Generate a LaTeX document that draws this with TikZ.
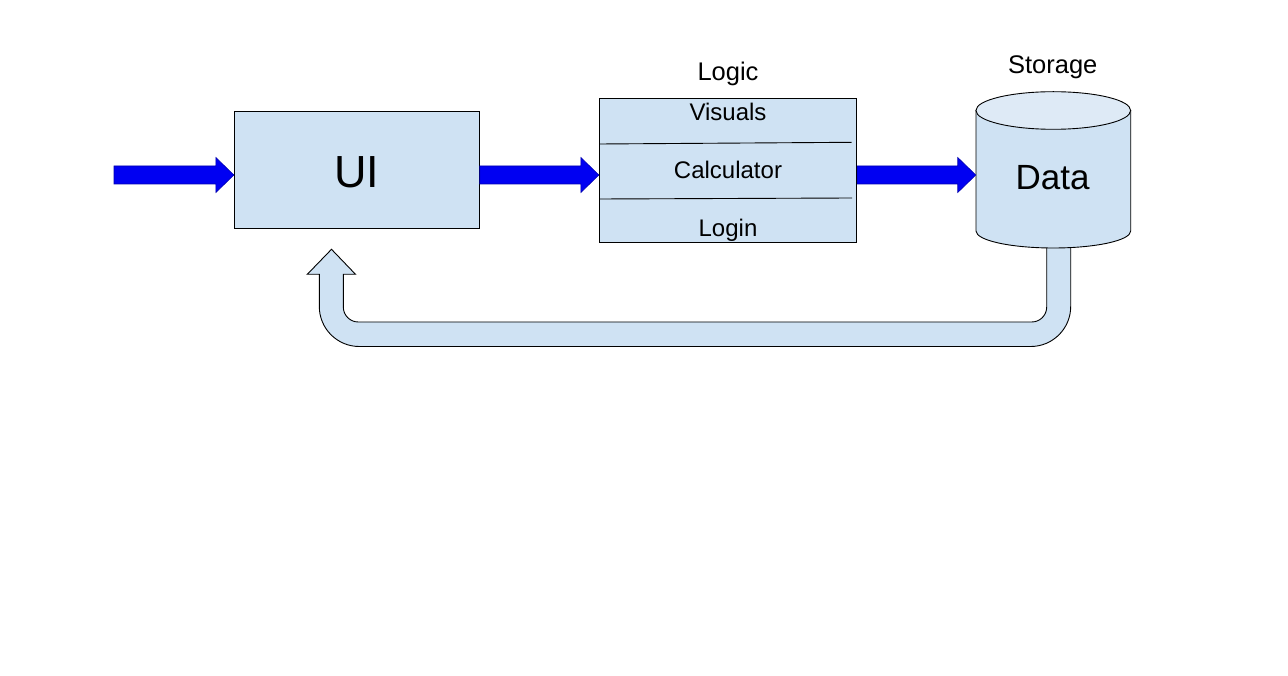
\documentclass[tikz,border=0pt]{standalone}
\usepackage{fontspec}
\setmainfont{Liberation Sans}
\usetikzlibrary{calc}

\definecolor{boxfill}{HTML}{CFE2F3}
\definecolor{capfill}{HTML}{DEEAF6}
\definecolor{flowblue}{HTML}{0000F2}
\definecolor{flowedge}{HTML}{0000B0}

\tikzset{
  panel/.style={draw=black, line width=0.9pt, fill=boxfill, inner sep=0pt},
  lbl/.style={inner sep=0pt, anchor=base, font=\fontsize{24}{28}\selectfont},
  biglbl/.style={inner sep=0pt, anchor=base, font=\fontsize{#1}{#1}\selectfont},
  flow/.style={fill=flowblue, draw=flowedge, line width=0.6pt},
  returnflow/.style={fill=boxfill, draw=black, line width=0.9pt},
  divider/.style={draw=black, line width=0.9pt},
}

% block arrow from a tail point to a tip point (horizontal)
\newcommand\blockarrow[2]{%
  \draw[flow] ($(#1)+(0,-9)$) -- ($(#2)+(-18,-9)$) -- ($(#2)+(-18,-17.5)$)
    -- (#2) -- ($(#2)+(-18,17.5)$) -- ($(#2)+(-18,9)$) -- ($(#1)+(0,9)$) -- cycle;}

\begin{document}
\begin{tikzpicture}[x=1pt, y=-1pt]
  \fill[white] (0,0) rectangle (1288,676);
  \useasboundingbox (0,0) rectangle (1288,676);

  % UI block
  \node[panel, minimum width=245pt, minimum height=116.7pt] (ui) at (356.8,169.7) {};
  \node[biglbl=45] (uitext) at (357,187.7) {UI};

  % Logic block with three sections
  \node[panel, minimum width=257.4pt, minimum height=144pt] (logic) at (728,170.3) {};
  \draw[divider] (599.3,144) -- (851.7,142.3);
  \draw[divider] (599.3,199) -- (852,198);
  \node[biglbl=25.5] (logictitle) at (728,80.5) {Logic};
  \node[lbl] (visuals) at (728,121) {Visuals};
  \node[lbl] (calc) at (728,178.3) {Calculator};
  \node[lbl] (login) at (728,236.7) {Login};

  % Storage cylinder (outline drawn below)
  \node[inner sep=0pt, minimum width=154.7pt, minimum height=156.6pt] (data) at (1053.3,170) {};
  \node[biglbl=25.5] (storagetitle) at (1052.7,73.3) {Storage};

  % return path from storage back to the UI
  \draw[returnflow] (1070.7,240) -- (1070.7,306.5)
    .. controls (1070.7,328.6) and (1052.8,346.5) .. (1030.7,346.5)
    -- (359.3,346.5)
    .. controls (337.2,346.5) and (319.3,328.6) .. (319.3,306.5)
    -- (319.3,274.3) -- (307.3,274.3) -- (331.5,249.3) -- (355.5,274.3) -- (343.3,274.3)
    -- (343.3,307)
    .. controls (343.3,315.3) and (350,322) .. (358.3,322)
    -- (1031.7,322)
    .. controls (1040,322) and (1046.7,315.3) .. (1046.7,307)
    -- (1046.7,240) -- cycle;

  % cylinder body and lid
  \draw[panel] (976,110.5) -- (976,231)
    .. controls (976,240.4) and (1010.6,248) .. (1053.3,248)
    .. controls (1096,248) and (1130.7,240.4) .. (1130.7,231)
    -- (1130.7,110.5) -- cycle;
  \draw[line width=0.9pt, fill=capfill] (1053.3,110.5) ellipse [x radius=77.35pt, y radius=18.8pt];
  \node[biglbl=35] (datatext) at (1052.5,190) {Data};

  % flow arrows
  \coordinate (src) at (114,175);
  \coordinate (t1) at (ui.west |- src);
  \coordinate (s2) at (ui.east |- src);
  \coordinate (t2) at (logic.west |- src);
  \coordinate (s3) at (logic.east |- src);
  \coordinate (t3) at (data.west |- src);
  \blockarrow{src}{t1}
  \blockarrow{s2}{t2}
  \blockarrow{s3}{t3}
\end{tikzpicture}
\end{document}
